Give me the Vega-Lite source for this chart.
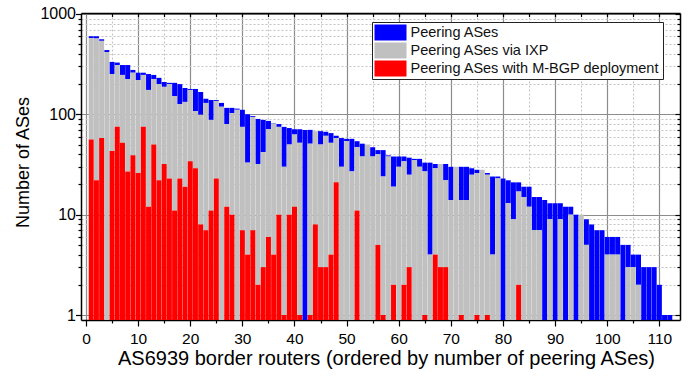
{
  "$schema": "https://vega.github.io/schema/vega-lite/v6.json",
  "width": 599,
  "height": 307,
  "autosize": {"type": "none"},
  "padding": {"left": 81, "top": 13, "right": 11, "bottom": 59},
  "background": "white",
  "config": {
    "font": "Liberation Sans",
    "view": {"stroke": null},
    "axis": {
      "labelFont": "Liberation Sans",
      "titleFont": "Liberation Sans",
      "labelColor": "#000",
      "titleColor": "#000",
      "tickColor": "#000",
      "domainColor": "#000",
      "titleFontWeight": "normal",
      "labelFlush": false,
      "labelOverlap": false
    },
    "legend": {
      "title": null,
      "orient": "none", "legendX": 291, "legendY": 9,
      "symbolType": "M-2,-1H2V1H-2Z", "symbolSize": 256,
      "symbolOffset": 8, "labelOffset": 12,
      "symbolStrokeWidth": 0, "symbolOpacity": 1,
      "labelFontSize": 14.5, "labelFont": "Liberation Sans", "labelColor": "#111",
      "rowPadding": 2, "padding": 2.5,
      "strokeColor": "#222", "fillColor": "white", "cornerRadius": 0,
      "labelLimit": 400
    }
  },
  "datasets": {
    "routers": [
      {"r":1,"total":600,"ixp":575,"mbgp":56},
      {"r":2,"total":600,"ixp":569,"mbgp":22},
      {"r":3,"total":560,"ixp":540,"mbgp":58},
      {"r":4,"total":437,"ixp":418,"mbgp":0},
      {"r":5,"total":333,"ixp":252,"mbgp":43},
      {"r":6,"total":328,"ixp":310,"mbgp":75},
      {"r":7,"total":310,"ixp":247,"mbgp":52},
      {"r":8,"total":310,"ixp":225,"mbgp":27},
      {"r":9,"total":277,"ixp":260,"mbgp":39},
      {"r":10,"total":260,"ixp":220,"mbgp":26},
      {"r":11,"total":260,"ixp":247,"mbgp":75},
      {"r":12,"total":252,"ixp":175,"mbgp":12},
      {"r":13,"total":247,"ixp":225,"mbgp":50},
      {"r":14,"total":231,"ixp":200,"mbgp":22},
      {"r":15,"total":210,"ixp":188,"mbgp":32},
      {"r":16,"total":206,"ixp":200,"mbgp":23},
      {"r":17,"total":206,"ixp":152,"mbgp":11},
      {"r":18,"total":200,"ixp":126,"mbgp":23},
      {"r":19,"total":183,"ixp":133,"mbgp":19},
      {"r":20,"total":179,"ixp":175,"mbgp":34},
      {"r":21,"total":179,"ixp":108,"mbgp":29},
      {"r":22,"total":167,"ixp":99,"mbgp":8},
      {"r":23,"total":143,"ixp":130,"mbgp":7},
      {"r":24,"total":139,"ixp":88,"mbgp":11},
      {"r":25,"total":139,"ixp":136,"mbgp":23},
      {"r":26,"total":130,"ixp":119,"mbgp":0},
      {"r":27,"total":116,"ixp":80,"mbgp":12},
      {"r":28,"total":116,"ixp":103,"mbgp":10},
      {"r":29,"total":114,"ixp":111,"mbgp":0},
      {"r":30,"total":111,"ixp":75,"mbgp":7},
      {"r":31,"total":100,"ixp":33,"mbgp":4},
      {"r":32,"total":96,"ixp":94,"mbgp":7},
      {"r":33,"total":90,"ixp":32,"mbgp":2},
      {"r":34,"total":88,"ixp":42,"mbgp":3},
      {"r":35,"total":86,"ixp":71,"mbgp":6},
      {"r":36,"total":82,"ixp":81,"mbgp":4},
      {"r":37,"total":80,"ixp":75,"mbgp":10},
      {"r":38,"total":75,"ixp":30,"mbgp":1},
      {"r":39,"total":73,"ixp":50,"mbgp":10},
      {"r":40,"total":71,"ixp":63,"mbgp":12},
      {"r":41,"total":71,"ixp":52,"mbgp":1},
      {"r":42,"total":70,"ixp":0,"mbgp":0},
      {"r":43,"total":70,"ixp":51,"mbgp":1},
      {"r":44,"total":68,"ixp":68,"mbgp":8},
      {"r":45,"total":68,"ixp":50,"mbgp":3},
      {"r":46,"total":67,"ixp":61,"mbgp":3},
      {"r":47,"total":65,"ixp":52,"mbgp":4},
      {"r":48,"total":61,"ixp":58,"mbgp":21},
      {"r":49,"total":58,"ixp":30,"mbgp":0},
      {"r":50,"total":57,"ixp":54,"mbgp":0},
      {"r":51,"total":57,"ixp":27,"mbgp":0},
      {"r":52,"total":54,"ixp":47,"mbgp":11},
      {"r":53,"total":51,"ixp":38,"mbgp":0},
      {"r":54,"total":50,"ixp":50,"mbgp":0},
      {"r":55,"total":47,"ixp":38,"mbgp":0},
      {"r":56,"total":44,"ixp":40,"mbgp":5},
      {"r":57,"total":44,"ixp":24,"mbgp":1},
      {"r":58,"total":39,"ixp":38,"mbgp":0},
      {"r":59,"total":38,"ixp":19,"mbgp":2},
      {"r":60,"total":38,"ixp":30,"mbgp":0},
      {"r":61,"total":38,"ixp":34,"mbgp":2},
      {"r":62,"total":37,"ixp":25,"mbgp":3},
      {"r":63,"total":36,"ixp":35,"mbgp":0},
      {"r":64,"total":36,"ixp":30,"mbgp":0},
      {"r":65,"total":33,"ixp":27,"mbgp":1},
      {"r":66,"total":33,"ixp":4,"mbgp":0},
      {"r":67,"total":32,"ixp":29,"mbgp":4},
      {"r":68,"total":32,"ixp":32,"mbgp":3},
      {"r":69,"total":32,"ixp":22,"mbgp":3},
      {"r":70,"total":30,"ixp":14,"mbgp":0},
      {"r":71,"total":30,"ixp":30,"mbgp":0},
      {"r":72,"total":30,"ixp":14,"mbgp":1},
      {"r":73,"total":30,"ixp":14,"mbgp":0},
      {"r":74,"total":29,"ixp":25,"mbgp":0},
      {"r":75,"total":28,"ixp":26,"mbgp":1},
      {"r":76,"total":28,"ixp":28,"mbgp":0},
      {"r":77,"total":26,"ixp":25,"mbgp":1},
      {"r":78,"total":24,"ixp":4,"mbgp":0},
      {"r":79,"total":24,"ixp":23,"mbgp":0},
      {"r":80,"total":23,"ixp":0,"mbgp":0},
      {"r":81,"total":22,"ixp":13,"mbgp":0},
      {"r":82,"total":21,"ixp":9,"mbgp":0},
      {"r":83,"total":21,"ixp":17,"mbgp":2},
      {"r":84,"total":19,"ixp":15,"mbgp":0},
      {"r":85,"total":19,"ixp":12,"mbgp":0},
      {"r":86,"total":15,"ixp":7,"mbgp":0},
      {"r":87,"total":15,"ixp":7,"mbgp":0},
      {"r":88,"total":14,"ixp":0,"mbgp":0},
      {"r":89,"total":13,"ixp":9,"mbgp":0},
      {"r":90,"total":13,"ixp":0,"mbgp":0},
      {"r":91,"total":13,"ixp":9,"mbgp":0},
      {"r":92,"total":12,"ixp":0,"mbgp":0},
      {"r":93,"total":12,"ixp":10,"mbgp":0},
      {"r":94,"total":10,"ixp":0,"mbgp":0},
      {"r":95,"total":10,"ixp":10,"mbgp":0},
      {"r":96,"total":9,"ixp":5,"mbgp":0},
      {"r":97,"total":8,"ixp":0,"mbgp":0},
      {"r":98,"total":7,"ixp":0,"mbgp":0},
      {"r":99,"total":7,"ixp":0,"mbgp":0},
      {"r":100,"total":6,"ixp":4,"mbgp":0},
      {"r":101,"total":6,"ixp":4,"mbgp":0},
      {"r":102,"total":6,"ixp":4,"mbgp":0},
      {"r":103,"total":5,"ixp":0,"mbgp":0},
      {"r":104,"total":5,"ixp":3,"mbgp":0},
      {"r":105,"total":4,"ixp":3,"mbgp":0},
      {"r":106,"total":4,"ixp":2,"mbgp":0},
      {"r":107,"total":3,"ixp":0,"mbgp":0},
      {"r":108,"total":3,"ixp":0,"mbgp":0},
      {"r":109,"total":3,"ixp":0,"mbgp":0},
      {"r":110,"total":2,"ixp":0,"mbgp":0},
      {"r":111,"total":1,"ixp":0,"mbgp":0},
      {"r":112,"total":1,"ixp":0,"mbgp":0}
    ]
  },
  "layer": [
    {
      "data": {"name": "routers"},
      "transform": [{"filter": "datum.ixp > 0"}],
      "mark": {"type": "bar", "width": 5, "clip": true},
      "encoding": {
        "x": {
          "field": "r", "type": "quantitative",
          "scale": {"domain": [0, 113], "nice": false, "zero": false},
          "axis": {
            "orient": "bottom",
            "values": [0, 10, 20, 30, 40, 50, 60, 70, 80, 90, 100, 110],
            "grid": true, "gridColor": "#8c8c8c", "gridWidth": 1.2,
            "tickSize": 6, "tickWidth": 1.2, "domainWidth": 1.5,
            "labelFontSize": 15.5, "labelPadding": 5,
            "title": "AS6939 border routers (ordered by number of peering ASes)",
            "titleFontSize": 20, "titleX": 305, "titleY": 28, "titleBaseline": "top"
          }
        },
        "y": {
          "field": "total", "type": "quantitative", "stack": null,
          "scale": {"type": "log", "domain": [0.892, 1023], "nice": false},
          "axis": {
            "orient": "left",
            "values": [1, 10, 100, 1000], "format": "d",
            "grid": true, "gridColor": "#8c8c8c", "gridWidth": 1.2,
            "tickSize": 5.5, "tickWidth": 1.2, "domainWidth": 1.5,
            "labelFontSize": 16, "labelPadding": 0,
            "title": "Number of ASes",
            "titleFontSize": 18, "titleX": -49, "titleY": 149
          }
        },
        "y2": {"field": "ixp"},
        "color": {
          "datum": "total", "type": "nominal",
          "scale": {"domain": ["total", "ixp", "mbgp"], "range": ["#0000ff", "#c0c0c0", "#ff0000"]},
          "legend": {
            "labelExpr": "datum.label == 'total' ? 'Peering ASes' : datum.label == 'ixp' ? 'Peering ASes via IXP' : 'Peering ASes with M-BGP deployment'"
          }
        }
      }
    },
    {
      "data": {"name": "routers"},
      "transform": [{"filter": "datum.ixp == 0"}],
      "mark": {"type": "bar", "width": 5, "clip": true},
      "encoding": {
        "x": {"field": "r", "type": "quantitative", "axis": null},
        "y": {"field": "total", "type": "quantitative", "stack": null, "axis": null},
        "color": {"datum": "total", "type": "nominal"}
      }
    },
    {
      "data": {"name": "routers"},
      "transform": [{"filter": "datum.ixp > 0 && datum.mbgp > 0"}],
      "mark": {"type": "bar", "width": 5, "clip": true},
      "encoding": {
        "x": {"field": "r", "type": "quantitative", "axis": null},
        "y": {"field": "ixp", "type": "quantitative", "stack": null, "axis": null},
        "y2": {"field": "mbgp"},
        "color": {"datum": "ixp", "type": "nominal"}
      }
    },
    {
      "data": {"name": "routers"},
      "transform": [{"filter": "datum.ixp > 0 && datum.mbgp == 0"}],
      "mark": {"type": "bar", "width": 5, "clip": true},
      "encoding": {
        "x": {"field": "r", "type": "quantitative", "axis": null},
        "y": {"field": "ixp", "type": "quantitative", "stack": null, "axis": null},
        "color": {"datum": "ixp", "type": "nominal"}
      }
    },
    {
      "data": {"name": "routers"},
      "transform": [{"filter": "datum.mbgp > 0"}],
      "mark": {"type": "bar", "width": 5, "clip": true},
      "encoding": {
        "x": {"field": "r", "type": "quantitative", "axis": null},
        "y": {"field": "mbgp", "type": "quantitative", "stack": null, "axis": null},
        "color": {"datum": "mbgp", "type": "nominal"}
      }
    },
    {
      "data": {"name": "routers"},
      "mark": {"type": "point", "opacity": 0},
      "encoding": {
        "x": {
          "field": "r", "type": "quantitative",
          "axis": {
            "orient": "bottom",
            "values": [5, 15, 25, 35, 45, 55, 65, 75, 85, 95, 105],
            "grid": true, "gridColor": "#c4c4c4", "gridDash": [2, 2], "gridWidth": 1,
            "tickSize": 3, "tickWidth": 1.2, "labels": false, "domain": false, "title": null
          }
        },
        "y": {
          "field": "total", "type": "quantitative",
          "axis": {
            "orient": "left",
            "values": [2, 3, 4, 5, 6, 7, 8, 9, 20, 30, 40, 50, 60, 70, 80, 90, 200, 300, 400, 500, 600, 700, 800, 900],
            "grid": true, "gridColor": "#c4c4c4", "gridDash": [2, 2], "gridWidth": 1,
            "tickSize": 3, "tickWidth": 1.2, "labels": false, "domain": false, "title": null
          }
        }
      }
    },
    {
      "data": {"name": "routers"},
      "mark": {"type": "point", "opacity": 0},
      "encoding": {
        "x": {
          "field": "r", "type": "quantitative",
          "axis": {
            "orient": "top",
            "values": [5, 10, 15, 20, 25, 30, 35, 40, 45, 50, 55, 60, 65, 70, 75, 80, 85, 90, 95, 100, 105, 110],
            "grid": false, "tickSize": -3.5, "tickWidth": 1.2, "domainWidth": 1.5,
            "labels": false, "title": null
          }
        },
        "y": {
          "field": "total", "type": "quantitative",
          "axis": {
            "orient": "right",
            "values": [1, 10, 100, 1000],
            "grid": false, "tickSize": -5, "tickWidth": 1.2, "domainWidth": 1.5,
            "labels": false, "title": null
          }
        }
      }
    },
    {
      "data": {"name": "routers"},
      "mark": {"type": "point", "opacity": 0},
      "encoding": {
        "x": {"field": "r", "type": "quantitative", "axis": null},
        "y": {
          "field": "total", "type": "quantitative",
          "axis": {
            "orient": "right",
            "values": [2, 3, 4, 5, 6, 7, 8, 9, 20, 30, 40, 50, 60, 70, 80, 90, 200, 300, 400, 500, 600, 700, 800, 900],
            "grid": false, "tickSize": -3, "tickWidth": 1.2, "domain": false,
            "labels": false, "title": null
          }
        }
      }
    }
  ],
  "resolve": {"axis": {"x": "independent", "y": "independent"}}
}
